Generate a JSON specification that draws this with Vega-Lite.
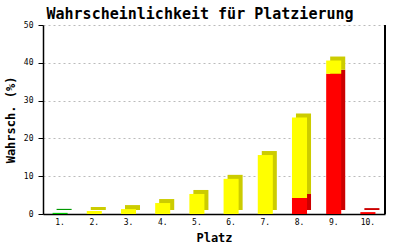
{
  "$schema": "https://vega.github.io/schema/vega-lite/v6.json",
  "width": 342,
  "height": 189,
  "autosize": {"type": "none"},
  "padding": {"left": 43, "top": 25, "right": 15, "bottom": 36},
  "background": "white",
  "title": {
    "text": "Wahrscheinlichkeit für Platzierung",
    "font": "DejaVu Sans Mono",
    "fontSize": 15,
    "fontWeight": "bold",
    "color": "black",
    "anchor": "middle",
    "dx": -14,
    "offset": -1
  },
  "data": {
    "values": [
      {"platz": "1.", "farbe": "gruen", "ord": 1, "wert": 0.3},
      {"platz": "2.", "farbe": "gelb", "ord": 2, "wert": 0.8},
      {"platz": "3.", "farbe": "gelb", "ord": 2, "wert": 1.3},
      {"platz": "4.", "farbe": "gelb", "ord": 2, "wert": 2.9},
      {"platz": "5.", "farbe": "gelb", "ord": 2, "wert": 5.3},
      {"platz": "6.", "farbe": "gelb", "ord": 2, "wert": 9.3},
      {"platz": "7.", "farbe": "gelb", "ord": 2, "wert": 15.6},
      {"platz": "8.", "farbe": "rot", "ord": 1, "wert": 4.2},
      {"platz": "8.", "farbe": "gelb", "ord": 2, "wert": 21.3},
      {"platz": "9.", "farbe": "rot", "ord": 1, "wert": 37.1},
      {"platz": "9.", "farbe": "gelb", "ord": 2, "wert": 3.5},
      {"platz": "10.", "farbe": "rot", "ord": 1, "wert": 0.5}
    ]
  },
  "encoding": {
    "x": {
      "field": "platz",
      "type": "ordinal",
      "sort": null,
      "scale": {"paddingInner": 0.56, "paddingOuter": 0.28},
      "axis": {
        "title": "Platz",
        "titleFont": "DejaVu Sans Mono",
        "titleFontSize": 12,
        "titleFontWeight": "bold",
        "titleColor": "black",
        "titlePadding": 6,
        "labelFont": "DejaVu Sans Mono",
        "labelFontSize": 8,
        "labelColor": "black",
        "labelAngle": 0,
        "labelPadding": 4,
        "ticks": false,
        "domainColor": "black",
        "domainWidth": 1.5
      }
    },
    "y": {
      "field": "wert",
      "type": "quantitative",
      "stack": "zero",
      "scale": {"domain": [0, 50], "nice": false},
      "axis": {
        "title": "Wahrsch. (%)",
        "titleFont": "DejaVu Sans Mono",
        "titleFontSize": 12,
        "titleFontWeight": "bold",
        "titleColor": "black",
        "titlePadding": 6,
        "labelFont": "DejaVu Sans Mono",
        "labelFontSize": 8,
        "labelColor": "black",
        "labelPadding": 5,
        "labelOverlap": false,
        "values": [0, 10, 20, 30, 40, 50],
        "tickSize": 5,
        "tickColor": "black",
        "domainColor": "black",
        "domainWidth": 1.5,
        "grid": true,
        "gridColor": "#bbbbbb",
        "gridDash": [2, 3]
      }
    },
    "order": {"field": "ord", "type": "quantitative"}
  },
  "layer": [
    {
      "mark": {"type": "bar", "xOffset": 4, "yOffset": -4},
      "encoding": {
        "color": {
          "field": "farbe",
          "type": "nominal",
          "scale": {"domain": ["gruen", "gelb", "rot"], "range": ["#009900", "#cccc00", "#cc0000"]},
          "legend": null
        }
      }
    },
    {
      "mark": {"type": "bar"},
      "encoding": {
        "color": {
          "field": "farbe",
          "type": "nominal",
          "scale": {"domain": ["gruen", "gelb", "rot"], "range": ["#00cc00", "#ffff00", "#ff0000"]},
          "legend": null
        }
      }
    },
    {
      "mark": {"type": "rule", "color": "black", "strokeWidth": 1.5},
      "encoding": {
        "x": {"value": 342},
        "y": {"value": 0},
        "y2": {"value": 189},
        "order": null
      }
    }
  ],
  "resolve": {"scale": {"color": "independent"}},
  "config": {"view": {"stroke": null}}
}
